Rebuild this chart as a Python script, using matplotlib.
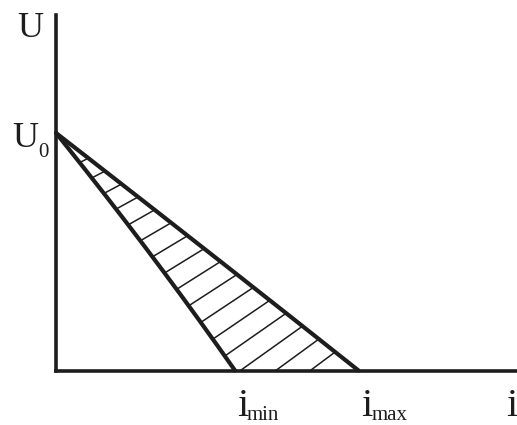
import numpy as np
import matplotlib
matplotlib.use("Agg")
import matplotlib.pyplot as plt
from matplotlib.patches import Polygon

# ---- data (schematic values) ----
U0 = 1.0          # open-circuit value on the U axis
i_min = 1.0       # intercept of the steep characteristic
i_max = 1.69      # intercept of the shallow characteristic
axis_labels = ["U", "i"]
point_labels = {"U0": ("U", "0"), "imin": ("i", "min"), "imax": ("i", "max")}

# ---- figure ----
W, H = 517, 425
fig = plt.figure(figsize=(W / 100, H / 100), dpi=100)
x0_px, y0_px, xtop_px, ytop_px = 56, 370.5, 517, 15
ax = fig.add_axes([x0_px / W, (H - y0_px) / H, (xtop_px - x0_px) / W, (y0_px - ytop_px) / H])
px_per_i = (235 - x0_px) / i_min
px_per_U = (y0_px - 133) / U0
ax.set_xlim(0, (xtop_px - x0_px) / px_per_i)
ax.set_ylim(0, (y0_px - ytop_px) / px_per_U)
ax.set_xticks([])
ax.set_yticks([])
for s in ["top", "right"]:
    ax.spines[s].set_visible(False)
ink = "#1d1d1d"
for s in ["left", "bottom"]:
    ax.spines[s].set_linewidth(2.6)
    ax.spines[s].set_color(ink)
    ax.spines[s].set_capstyle("projecting")

# ---- the two characteristics ----
u = np.linspace(0, 1, 200)               # normalized U/U0 from 0 (base) to 1 (apex)
def inner_i(uu):
    return i_min * (1 - uu) + 0.07 * uu * (1 - uu)
def outer_i(uu):
    return i_max * (1 - uu) + 0.02 * uu * (1 - uu)

xi, yi = inner_i(u), U0 * u
xo, yo = outer_i(u), U0 * u

# clip region (hatched zone between the two lines)
poly_x = np.concatenate([xi[::-1], xo])
poly_y = np.concatenate([yi[::-1], yo])
region = Polygon(np.column_stack([poly_x, poly_y]), closed=True,
                 facecolor="white", edgecolor="none", zorder=1)
ax.add_patch(region)

# hatch lines: start on the outer line, run down-left, clipped to the region
fig.canvas.draw()
tr = ax.transData
inv = tr.inverted()
for r in np.linspace(0.106, 0.922, 16):
    uu = 1 - r
    P = tr.transform((outer_i(uu), U0 * uu))
    slope = 0.47 + 0.30 * r
    L = 250
    Q = P + np.array([-L, -slope * L])
    (qx, qy) = inv.transform(Q)
    (pxd, pyd) = inv.transform(P)
    ln, = ax.plot([pxd, qx], [pyd, qy], color=ink, lw=1.1, zorder=2,
                  solid_capstyle="butt")
    ln.set_clip_path(region)

ax.plot(xi, yi, color=ink, lw=3.0, zorder=3, solid_capstyle="round", clip_on=False)
ax.plot(xo, yo, color=ink, lw=3.0, zorder=3, solid_capstyle="round", clip_on=False)

# ---- labels ----
serif = "Liberation Serif"
def lab(text, xy, dx_px, dy_px, size, ha="left"):
    ax.annotate(text, xy=xy, xycoords="data", xytext=(dx_px * 0.72, dy_px * 0.72),
                textcoords="offset points", ha=ha, va="baseline", fontsize=size,
                family=serif, color=ink, annotation_clip=False)

ymax = ax.get_ylim()[1]
xmax = ax.get_xlim()[1]
big_U, big_i, sub = 26, 29, 15

# axis labels
lab(axis_labels[0], (0, ymax), -13, -22, big_U, ha="right")
lab(axis_labels[1], (xmax, 0), -11, -46, big_i)

# U0
lab(point_labels["U0"][0], (0, U0), -18, -14, big_U, ha="right")
lab(point_labels["U0"][1], (0, U0), -18, -24, sub)

# i_min, i_max
lab(point_labels["imin"][0], (i_min, 0), 2, -46, big_i)
lab(point_labels["imin"][1], (i_min, 0), 12, -50, sub)
lab(point_labels["imax"][0], (i_max, 0), 3, -46, big_i)
lab(point_labels["imax"][1], (i_max, 0), 13, -50, sub)

fig.savefig("out.png", dpi=100)
